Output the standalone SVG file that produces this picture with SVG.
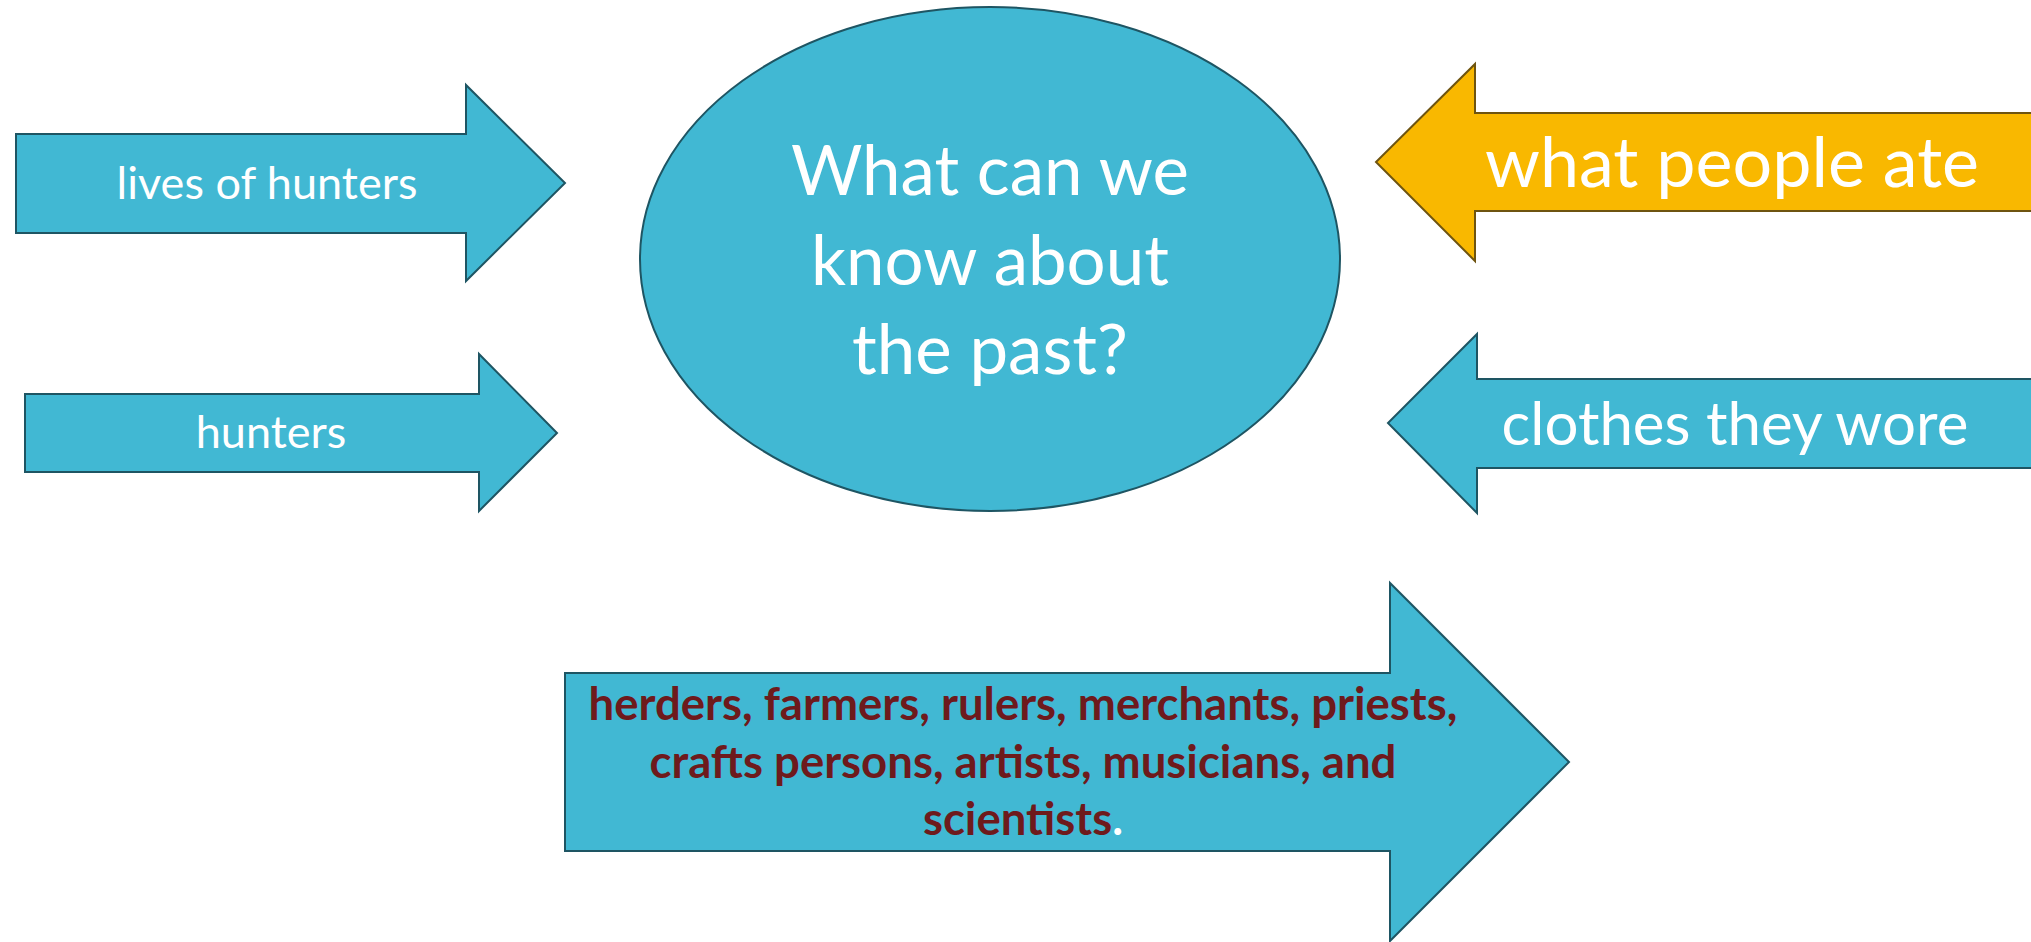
<svg xmlns="http://www.w3.org/2000/svg" width="2031" height="942" viewBox="0 0 2031 942">
<style>
.teal{fill:#41B8D3;stroke:#1E5563;stroke-width:2}
.gold{fill:#F9B800;stroke:#6E5410;stroke-width:2}
.w{fill:#FFFFFF;font-family:Lato,"Liberation Sans",sans-serif;text-anchor:middle}
.r{fill:#6E1A1C;font-family:Lato,"Liberation Sans",sans-serif;font-weight:bold;font-size:45.5px;text-anchor:middle}
</style>
<rect width="2031" height="942" fill="#FFFFFF"/>
<g id="center">
<ellipse class="teal" cx="990" cy="259" rx="350" ry="252"/>
<text class="w" font-size="69" x="990" y="195">What can we</text>
<text class="w" font-size="69" x="990" y="285">know about</text>
<text class="w" font-size="69" x="990" y="374">the past?</text>
</g>
<g id="lives-of-hunters">
<polygon class="teal" points="16,134 466,134 466,85 565,183 466,281 466,233 16,233"/>
<text class="w" font-size="45" x="267" y="199">lives of hunters</text>
</g>
<g id="hunters">
<polygon class="teal" points="25,394 479,394 479,354 557,433 479,511 479,472 25,472"/>
<text class="w" font-size="45" x="271" y="448">hunters</text>
</g>
<g id="what-people-ate">
<polygon class="gold" points="2040,113 1475,113 1475,64 1376,162 1475,261 1475,211 2040,211"/>
<text class="w" font-size="70" x="1732" y="187">what people ate</text>
</g>
<g id="clothes-they-wore">
<polygon class="teal" points="2040,379 1477,379 1477,334 1388,423 1477,513 1477,468 2040,468"/>
<text class="w" font-size="60" x="1735" y="445">clothes they wore</text>
</g>
<g id="people">
<polygon class="teal" points="565,673 1390,673 1390,583 1569,762 1390,941 1390,851 565,851"/>
<text class="r" x="1023" y="720">herders, farmers, rulers, merchants, priests,</text>
<text class="r" x="1023" y="778">crafts persons, artists, musicians, and</text>
<text class="r" x="1023" y="835">scientists<tspan fill="#FFFFFF">.</tspan></text>
</g>
<g id="connectors"/>
</svg>
